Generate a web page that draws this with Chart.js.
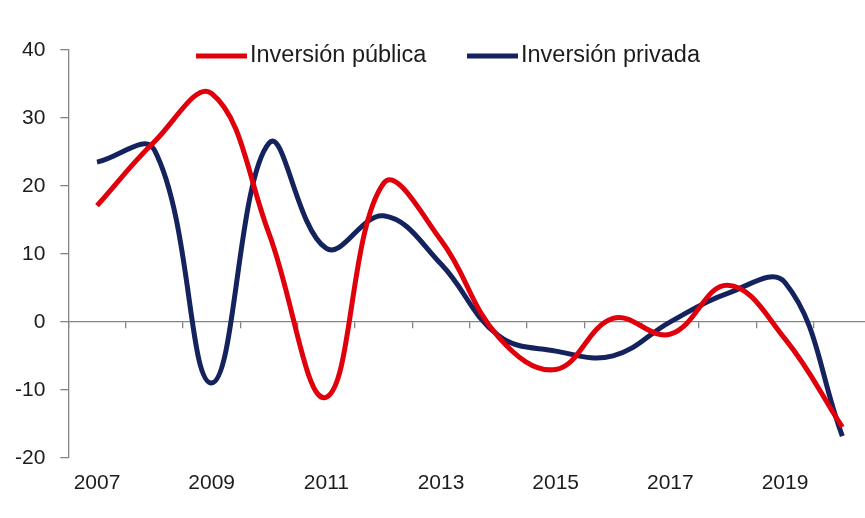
<!DOCTYPE html>
<html>
<head>
<meta charset="utf-8">
<script src="https://cdn.jsdelivr.net/npm/chart.js@4"></script>
<style>
  html, body { margin: 0; padding: 0; background: #fff; overflow: hidden; }
  #chart { display: block; }
</style>
</head>
<body>
<canvas id="chart" width="880" height="518"></canvas>
<script>
const years = ["2007", "2008", "2009", "2010", "2011", "2012", "2013",
               "2014", "2015", "2016", "2017", "2018", "2019", "2020"];
const publica = [17.1, 26.5, 33.6, 13, -11.1, 20.4, 12, -2.2, -7, 0.5, -1.8, 5.4, -2.5, -15.5];
const privada = [23.5, 25.3, -9, 26.3, 10.8, 15.6, 8.5, -2, -4.3, -5, 0, 4.2, 5.8, -16.8];
const yTicks = [-20, -10, 0, 10, 20, 30, 40];

const seriesNames = ["Inversión pública", "Inversión privada"];
const seriesColors = ["#e0000b", "#14225e"];
const axisGray = "#858585";
const textColor = "#1c1c1c";
const fontFamily = "'Liberation Sans', Arial, sans-serif";

// legend drawn inside the plot, a short thick line then the label
const innerLegend = {
  id: "innerLegend",
  afterDraw(chart) {
    const ctx = chart.ctx;
    const starts = [196, 467];
    ctx.save();
    ctx.font = "23.5px " + fontFamily;
    ctx.textBaseline = "middle";
    chart.data.datasets.forEach((ds, i) => {
      const x = starts[i];
      const y = 56;
      ctx.strokeStyle = ds.borderColor;
      ctx.lineWidth = 5;
      ctx.beginPath();
      ctx.moveTo(x, y);
      ctx.lineTo(x + 51, y);
      ctx.stroke();
      ctx.fillStyle = textColor;
      ctx.fillText(ds.label, x + 54, y);
    });
    ctx.restore();
  }
};

new Chart(document.getElementById("chart"), {
  type: "line",
  data: {
    labels: years,
    datasets: [
      { label: seriesNames[0], data: publica, borderColor: seriesColors[0] },
      { label: seriesNames[1], data: privada, borderColor: seriesColors[1] }
    ].map(d => Object.assign(d, {
      borderWidth: 5,
      pointRadius: 0,
      tension: 0.4,
      fill: false,
      borderCapStyle: "butt"
    }))
  },
  options: {
    responsive: false,
    animation: false,
    devicePixelRatio: 1,
    layout: { padding: { left: 0, right: 9, top: 50, bottom: 9 } },
    plugins: {
      legend: { display: false },
      tooltip: { enabled: false }
    },
    scales: {
      x: {
        type: "category",
        offset: true,
        grid: { display: false, drawTicks: false },
        border: { display: false },
        ticks: {
          autoSkip: false,
          maxRotation: 0,
          padding: 13,
          color: textColor,
          font: { family: fontFamily, size: 21 },
          callback: (v, i) => (i % 2 === 0 ? years[i] : "")
        }
      },
      // zero line with small tick marks between the years
      xZero: {
        type: "category",
        axis: "x",
        position: { y: 0 },
        offset: true,
        grid: {
          offset: true,
          drawOnChartArea: false,
          tickLength: 6,
          color: axisGray,
          lineWidth: 1.3
        },
        border: { color: axisGray, width: 1.3 },
        ticks: { display: false }
      },
      y: {
        min: yTicks[0],
        max: yTicks[yTicks.length - 1],
        afterBuildTicks: axis => { axis.ticks = yTicks.map(v => ({ value: v })); },
        grid: {
          drawOnChartArea: false,
          tickLength: 8,
          color: axisGray,
          lineWidth: 1.3
        },
        border: { color: axisGray, width: 1.3 },
        ticks: {
          padding: 15,
          color: textColor,
          font: { family: fontFamily, size: 21 }
        }
      }
    }
  },
  plugins: [innerLegend]
});
</script>
</body>
</html>
